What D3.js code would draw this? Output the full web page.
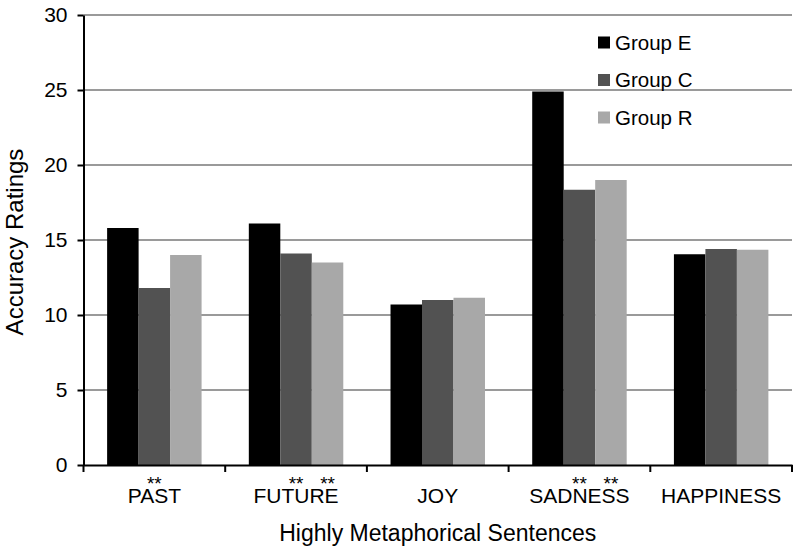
<!DOCTYPE html>
<html>
<head>
<meta charset="utf-8">
<script src="https://cdn.jsdelivr.net/npm/d3@7"></script>
<style>
  body { margin: 0; background: #fff; }
  svg text { font-family: 'Liberation Sans', Arial, Helvetica, sans-serif; fill: #000; }
</style>
</head>
<body>
<div id="chart"></div>
<script>
const categories = ['PAST', 'FUTURE', 'JOY', 'SADNESS', 'HAPPINESS']
const seriesNames = ['Group E', 'Group C', 'Group R']
const groupE = [15.8, 16.1, 10.7, 24.9, 14.05]
const groupC = [11.8, 14.1, 11.0, 18.35, 14.4]
const groupR = [14.0, 13.5, 11.15, 19.0, 14.35]
const yTicks = [0, 5, 10, 15, 20, 25, 30]
// significance marks: category + the group they sit over
const sigMarks = [
  { category: 'PAST', series: 'Group C' },
  { category: 'FUTURE', series: 'Group C' },
  { category: 'FUTURE', series: 'Group R' },
  { category: 'SADNESS', series: 'Group C' },
  { category: 'SADNESS', series: 'Group R' }
]

const width = 800
const height = 550
const margin = { top: 15, right: 8, bottom: 85, left: 83.5 }
const colors = { 'Group E': '#000000', 'Group C': '#525252', 'Group R': '#a8a8a8' }

const svg = d3.select('#chart').append('svg')
  .attr('width', width)
  .attr('height', height)

const x = d3.scaleBand()
  .domain(categories)
  .range([margin.left, width - margin.right])
  .padding(0)

const xInner = d3.scaleBand()
  .domain(seriesNames)
  .range([0, x.bandwidth()])
  .paddingInner(0)
  .paddingOuter(0.75)

const y = d3.scaleLinear()
  .domain([0, 30])
  .range([height - margin.bottom, margin.top])

// gridlines
svg.append('g')
  .selectAll('line')
  .data(yTicks.filter(d => d > 0))
  .enter().append('line')
    .attr('x1', margin.left)
    .attr('x2', width - margin.right)
    .attr('y1', d => y(d))
    .attr('y2', d => y(d))
    .style('stroke', '#9a9a9a')
    .style('stroke-width', 2)

const rows = categories.map((c, i) => ({
  category: c,
  values: [groupE[i], groupC[i], groupR[i]].map((v, j) => ({ series: seriesNames[j], value: v }))
}))

const groups = svg.append('g').selectAll('g')
  .data(rows)
  .enter().append('g')
    .attr('transform', d => `translate(${x(d.category)},0)`)

groups.selectAll('rect')
  .data(d => d.values)
  .enter().append('rect')
    .attr('x', d => xInner(d.series))
    .attr('width', xInner.bandwidth())
    .attr('y', d => y(d.value))
    .attr('height', d => y(0) - y(d.value))
    .style('fill', d => colors[d.series])

// axes
const xAxis = svg.append('g')
  .attr('transform', `translate(0,${y(0)})`)
  .call(d3.axisBottom(x).tickSize(0).tickSizeOuter(0).tickPadding(23))
xAxis.select('.domain').style('stroke', '#000').style('stroke-width', 2)
xAxis.selectAll('text').style('font-size', '21px')

// tick marks on category boundaries
svg.append('g').selectAll('line')
  .data(categories)
  .enter().append('line')
    .attr('x1', d => x(d) + x.bandwidth())
    .attr('x2', d => x(d) + x.bandwidth())
    .attr('y1', y(0))
    .attr('y2', y(0) + 7)
    .style('stroke', '#000')
    .style('stroke-width', 2)
svg.append('line')
  .attr('x1', margin.left).attr('x2', margin.left)
  .attr('y1', y(0)).attr('y2', y(0) + 7)
  .style('stroke', '#000').style('stroke-width', 2)

const yAxis = svg.append('g')
  .attr('transform', `translate(${margin.left},0)`)
  .call(d3.axisLeft(y).tickValues(yTicks).tickSize(6).tickSizeOuter(0).tickPadding(10))
yAxis.select('.domain').style('stroke', '#000').style('stroke-width', 2)
yAxis.selectAll('.tick line').style('stroke', '#000').style('stroke-width', 2)
yAxis.selectAll('text').style('font-size', '21px')

// significance asterisks
svg.append('g').selectAll('text')
  .data(sigMarks)
  .enter().append('text')
    .attr('x', d => x(d.category) + xInner(d.series) + xInner.bandwidth() / 2)
    .attr('y', y(0) + 25)
    .attr('text-anchor', 'middle')
    .style('font-size', '19px')
    .text('**')

// axis titles
svg.append('text')
  .attr('x', (margin.left + width - margin.right) / 2)
  .attr('y', 541)
  .attr('text-anchor', 'middle')
  .style('font-size', '23px')
  .text('Highly Metaphorical Sentences')

svg.append('text')
  .attr('transform', `translate(23,${(y(0) + y(30)) / 2 + 2}) rotate(-90)`)
  .attr('text-anchor', 'middle')
  .style('font-size', '24px')
  .text('Accuracy Ratings')

// legend
const legend = svg.append('g').selectAll('g')
  .data(seriesNames)
  .enter().append('g')
    .attr('transform', (d, i) => `translate(598,${42.5 + i * 37.5})`)

legend.append('rect')
  .attr('x', 0)
  .attr('y', -6)
  .attr('width', 12)
  .attr('height', 12)
  .style('fill', d => colors[d])

legend.append('text')
  .attr('x', 17)
  .attr('y', 0)
  .attr('dy', '0.35em')
  .style('font-size', '20.5px')
  .text(d => d)
</script>
</body>
</html>
